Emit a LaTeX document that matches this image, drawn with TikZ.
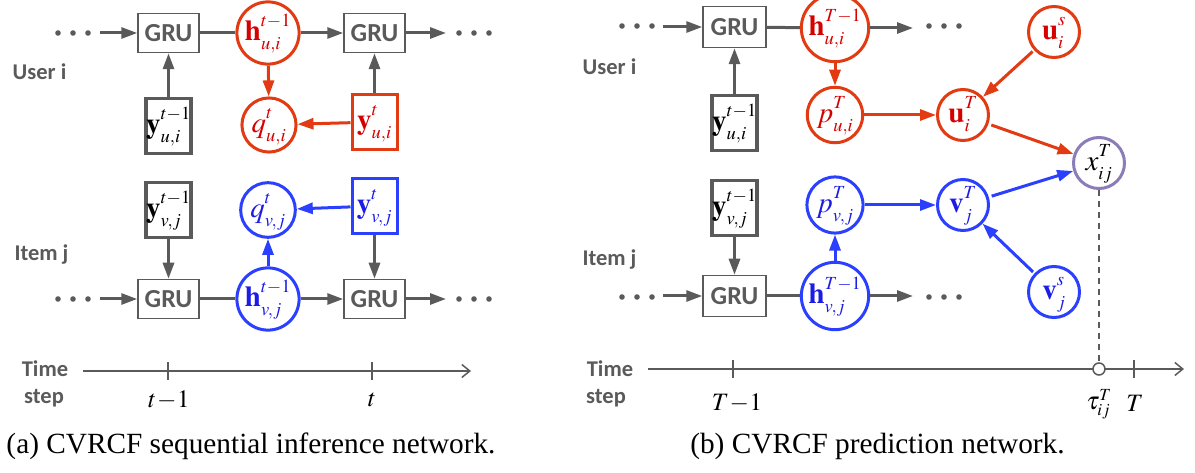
\documentclass[tikz,border=0pt]{standalone}
\usepackage{mathptmx}
\usepackage[no-math]{fontspec}
\setmainfont{Liberation Serif}
\newfontfamily\sanslbl{Carlito}
\usetikzlibrary{arrows.meta}
\DeclareMathSizes{29}{29}{18.5}{14}
\DeclareMathSizes{25}{25}{17}{13}

\definecolor{cGray}{HTML}{5A5A5A}
\definecolor{cRed}{HTML}{E23A12}
\definecolor{cRedT}{HTML}{D50000}
\definecolor{cBlue}{HTML}{2B40FF}
\definecolor{cBlueT}{HTML}{1C1CE6}
\definecolor{cPurple}{HTML}{8C7DB8}

\newcommand{\mlbl}{\fontsize{29}{33}\selectfont}
\newcommand{\axlbl}{\fontsize{25}{30}\selectfont}
% base symbol with widely spaced super- and subscript
\newcommand{\var}[3]{#1^{\mathstrut #2}_{\mathstrut #3}}

\tikzset{
  grubox/.style={draw=cGray, line width=1.5pt, minimum width=61pt, minimum height=39pt,
    inner sep=0pt, text=cGray, font=\sanslbl\bfseries\fontsize{26}{30}\selectfont},
  ybox/.style={draw=cGray, line width=3.5pt, minimum width=45pt, minimum height=55pt,
    inner sep=0pt, font=\mlbl},
  redbox/.style={ybox, draw=cRed, line width=3pt, text=cRedT},
  bluebox/.style={ybox, draw=cBlue, line width=3pt, text=cBlueT},
  varnode/.style={circle, line width=3pt, minimum size=51pt, inner sep=0pt, font=\mlbl},
  redvar/.style={varnode, draw=cRed, text=cRedT},
  bluevar/.style={varnode, draw=cBlue, text=cBlueT},
  obsvar/.style={varnode, draw=cPurple, text=black},
  sidelbl/.style={text=cGray, font=\sanslbl\bfseries\fontsize{22.5}{26}\selectfont},
  garr/.style={draw=cGray, line width=3pt, -{Triangle[length=16pt,width=11pt]}},
  gline/.style={draw=cGray, line width=3pt},
  rarr/.style={draw=cRed, line width=3pt, -{Triangle[length=16pt,width=11pt]}},
  barr/.style={draw=cBlue, line width=3pt, -{Triangle[length=16pt,width=11pt]}},
  axisline/.style={draw=cGray, line width=1.5pt, -{Straight Barb[length=8pt,width=13pt]}},
  tickmark/.style={draw=cGray, line width=1.5pt},
  ticklbl/.style={font=\axlbl, inner sep=0pt},
  caption/.style={font=\fontsize{29.3}{34}\selectfont, anchor=base, inner sep=0pt},
}

\newcommand{\dotrow}[2]{%
  \foreach \k in {0,1,2} \fill[cGray] ({#1+15*\k},#2) circle (2.8pt);}

\begin{document}
\begin{tikzpicture}[x=1pt,y=-1pt]
\useasboundingbox (0,0) rectangle (1195,473);

% ---------------- (a) sequential inference network ----------------
% user chain
\node[grubox] (gruA1) at (168.5,33) {GRU};
\node[redvar] (hAu) at (268,33) {$\var{\mathbf{h}}{t-1}{u,i}$};
\node[grubox] (gruA2) at (374.5,33) {GRU};
\node[ybox] (yAu1) at (168.5,126) {$\var{\mathbf{y}}{t-1}{u,i}$};
\node[redvar] (qAu) at (269,125) {$\var{q}{t}{u,i}$};
\node[redbox] (yAu2) at (374.5,122) {$\var{\mathbf{y}}{t}{u,i}$};
\coordinate (inAu) at (100,33);
\coordinate (outAu) at (446,33);
\dotrow{58}{33}
\dotrow{459}{33}
\draw[garr] (inAu) -- (gruA1);
\draw[gline] (gruA1) -- (hAu);
\draw[garr] (hAu) -- (gruA2);
\draw[garr] (gruA2) -- (outAu);
\draw[garr] (yAu1) -- (gruA1);
\draw[garr] (yAu2) -- (gruA2);
\draw[rarr] (hAu) -- (qAu);
\draw[rarr] (yAu2) -- (qAu);

% item chain
\node[ybox] (yAv1) at (168.5,210) {$\var{\mathbf{y}}{t-1}{v,j}$};
\node[bluevar] (qAv) at (268,210) {$\var{q}{t}{v,j}$};
\node[bluebox] (yAv2) at (374.5,206) {$\var{\mathbf{y}}{t}{v,j}$};
\node[grubox] (gruA3) at (168.5,299) {GRU};
\node[bluevar] (hAv) at (268,299) {$\var{\mathbf{h}}{t-1}{v,j}$};
\node[grubox] (gruA4) at (374.5,299) {GRU};
\coordinate (inAv) at (100,299);
\coordinate (outAv) at (446,299);
\dotrow{58}{299}
\dotrow{459}{299}
\draw[garr] (inAv) -- (gruA3);
\draw[gline] (gruA3) -- (hAv);
\draw[garr] (hAv) -- (gruA4);
\draw[garr] (gruA4) -- (outAv);
\draw[garr] (yAv1) -- (gruA3);
\draw[garr] (yAv2) -- (gruA4);
\draw[barr] (hAv) -- (qAv);
\draw[barr] (yAv2) -- (qAv);

\node[sidelbl] (userA) at (39.5,72) {User i};
\node[sidelbl] (itemA) at (41.5,255) {Item j};
\node[sidelbl] (timeA) at (45,369) {Time};
\node[sidelbl] (stepA) at (44,398) {step};

% time axis
\coordinate (axA0) at (83,371);
\coordinate (axA1) at (471,371);
\draw[axisline] (axA0) -- (axA1);
\draw[tickmark] (168,362) -- (168,380);
\draw[tickmark] (372,362) -- (372,380);
\node[ticklbl] (tA1) at (169,400) {$t\!-\!1$};
\node[ticklbl] (tA2) at (372,400) {$t$};

\node[caption] (capA) at (251,453) {(a) CVRCF sequential inference network.};

% ---------------- (b) prediction network ----------------
% user side
\node[grubox, minimum width=63pt, minimum height=41pt] (gruB1) at (734.5,27) {GRU};
\node[redvar] (hBu) at (835,28) {$\var{\mathbf{h}}{T-1}{u,i}$};
\node[ybox] (yBu1) at (734.5,123) {$\var{\mathbf{y}}{t-1}{u,i}$};
\node[redvar] (pBu) at (835,115) {$\var{p}{T}{u,i}$};
\node[redvar] (uT) at (963,115) {$\var{\mathbf{u}}{T}{i}$};
\node[redvar] (uS) at (1054,32) {$\var{\mathbf{u}}{s}{i}$};
\node[obsvar] (xij) at (1099,163) {$\var{x}{T}{ij}$};
\coordinate (inBu) at (663,27);
\coordinate (outBu) at (913,28);
\dotrow{622}{26}
\dotrow{929}{26}
\draw[garr] (inBu) -- (gruB1);
\draw[gline] (gruB1) -- (hBu);
\draw[garr] (hBu) -- (outBu);
\draw[garr] (yBu1) -- (gruB1);
\draw[rarr] (hBu) -- (pBu);
\draw[rarr] (pBu) -- (uT);
\draw[rarr, shorten <=2pt] (uS) -- (uT);
\draw[rarr, shorten <=3pt] (uT) -- (xij);

% item side
\node[ybox] (yBv1) at (734.5,208) {$\var{\mathbf{y}}{t-1}{v,j}$};
\node[bluevar] (pBv) at (835,205) {$\var{p}{T}{v,j}$};
\node[bluevar] (vT) at (963,205) {$\var{\mathbf{v}}{T}{j}$};
\node[bluevar] (vS) at (1054,292) {$\var{\mathbf{v}}{s}{j}$};
\node[grubox, minimum width=63pt, minimum height=41pt] (gruB2) at (734.5,296) {GRU};
\node[bluevar] (hBv) at (835,296) {$\var{\mathbf{h}}{T-1}{v,j}$};
\coordinate (inBv) at (663,296);
\coordinate (outBv) at (913,296);
\dotrow{622}{297}
\dotrow{929}{297}
\draw[garr] (inBv) -- (gruB2);
\draw[gline] (gruB2) -- (hBv);
\draw[garr] (hBv) -- (outBv);
\draw[garr] (yBv1) -- (gruB2);
\draw[barr] (hBv) -- (pBv);
\draw[barr] (pBv) -- (vT);
\draw[barr, shorten <=2pt] (vS) -- (vT);
\draw[barr, shorten <=3pt] (vT) -- (xij);

\node[sidelbl] (userB) at (609.5,67) {User i};
\node[sidelbl] (itemB) at (609.5,260) {Item j};
\node[sidelbl] (timeB) at (610,369) {Time};
\node[sidelbl] (stepB) at (606,398) {step};

% time axis with the rating time marker
\coordinate (axB0) at (648,369);
\coordinate (axB1) at (1184,369);
\draw[axisline] (axB0) -- (axB1);
\draw[tickmark] (733,360) -- (733,378);
\draw[tickmark] (1134,360) -- (1134,378);
\node[circle, draw=cGray, line width=1.5pt, fill=white, minimum size=12pt, inner sep=0pt] (tauM) at (1099,369) {};
\draw[draw=cGray, line width=1.3pt, dash pattern=on 6pt off 5pt] (xij) -- (tauM);
\node[ticklbl] (tB1) at (737,403) {$T\!-\!1$};
\node[ticklbl] (tB2) at (1099,404) {$\tau^{T}_{ij}$};
\node[ticklbl] (tB3) at (1135,403) {$T$};

\node[caption] (capB) at (877.5,453) {(b) CVRCF prediction network.};
\end{tikzpicture}
\end{document}
